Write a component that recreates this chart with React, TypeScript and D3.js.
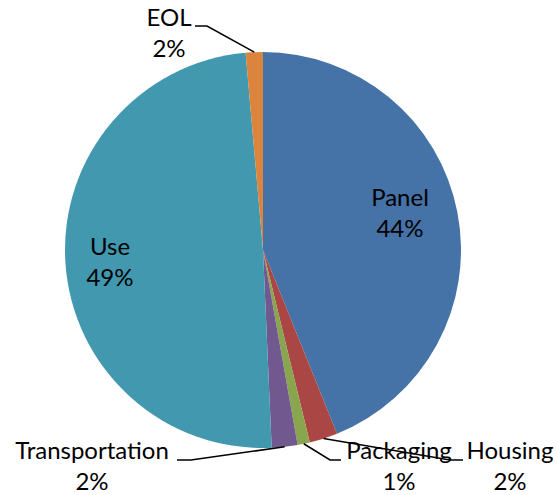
import * as React from 'react'
import * as d3 from 'd3'

const categories = ['Panel', 'Housing', 'Packaging', 'Transportation', 'Use', 'EOL']
const shares = [43.9, 2.3, 1.0, 2.1, 49.3, 1.4]
const shareLabels = ['44%', '2%', '1%', '2%', '49%', '2%']
const colors = ['#4572A7', '#AA4643', '#89A54E', '#71588F', '#4198AF', '#DB843D']

// label placement (text centre x, first baseline y) and leader line bends
const labelPos: {[key: string]: number[]} = {
    Panel: [400, 206],
    Use: [110, 255],
    EOL: [169, 26],
    Housing: [510, 459],
    Packaging: [399, 459],
    Transportation: [92, 459],
}
const leaders: {[key: string]: number[][]} = {
    EOL: [[207, 26], [195, 26]],
    Housing: [[450, 460], [463, 460]],
    Packaging: [[330, 460], [341, 460]],
    Transportation: [[191, 460], [177, 460]],
}

const W = 558
const H = 495
const cx = 263
const cy = 250
const R = 198

export default function App() {
    const pie = d3.pie<number>().sort(null).value(d => d)
    const arcs = pie(shares)
    const arc = d3.arc<d3.PieArcDatum<number>>().innerRadius(0).outerRadius(R)
    const line = d3.line()

    return <svg width={W} height={H} style={{position: 'absolute', left: 0, top: 0}}
        fontFamily='Lato, "Open Sans", sans-serif' fontSize={24}>
        <rect width={W} height={H} fill='#fff' />
        <g transform={`translate(${cx}, ${cy})`}>
            {arcs.map((a, i) => (
                <path key={categories[i]} d={arc(a) || ''} fill={colors[i]} />
            ))}
        </g>
        {arcs.map((a, i) => {
            const name = categories[i]
            const bends = leaders[name]
            if (!bends) return null
            const mid = (a.startAngle + a.endAngle) / 2
            const start: [number, number] = [cx + R * Math.sin(mid), cy - R * Math.cos(mid)]
            const pts = [start, ...bends.map(p => [p[0], p[1]] as [number, number])]
            return <path key={name} d={line(pts) || ''} fill='none' stroke='#000' strokeWidth={1.5} />
        })}
        {categories.map((name, i) => {
            const [x, y] = labelPos[name]
            return <text key={name} x={x} y={y} textAnchor='middle' fill='#000'>
                <tspan x={x} y={y}>{name}</tspan>
                <tspan x={x} y={y + 31}>{shareLabels[i]}</tspan>
            </text>
        })}
    </svg>
}
